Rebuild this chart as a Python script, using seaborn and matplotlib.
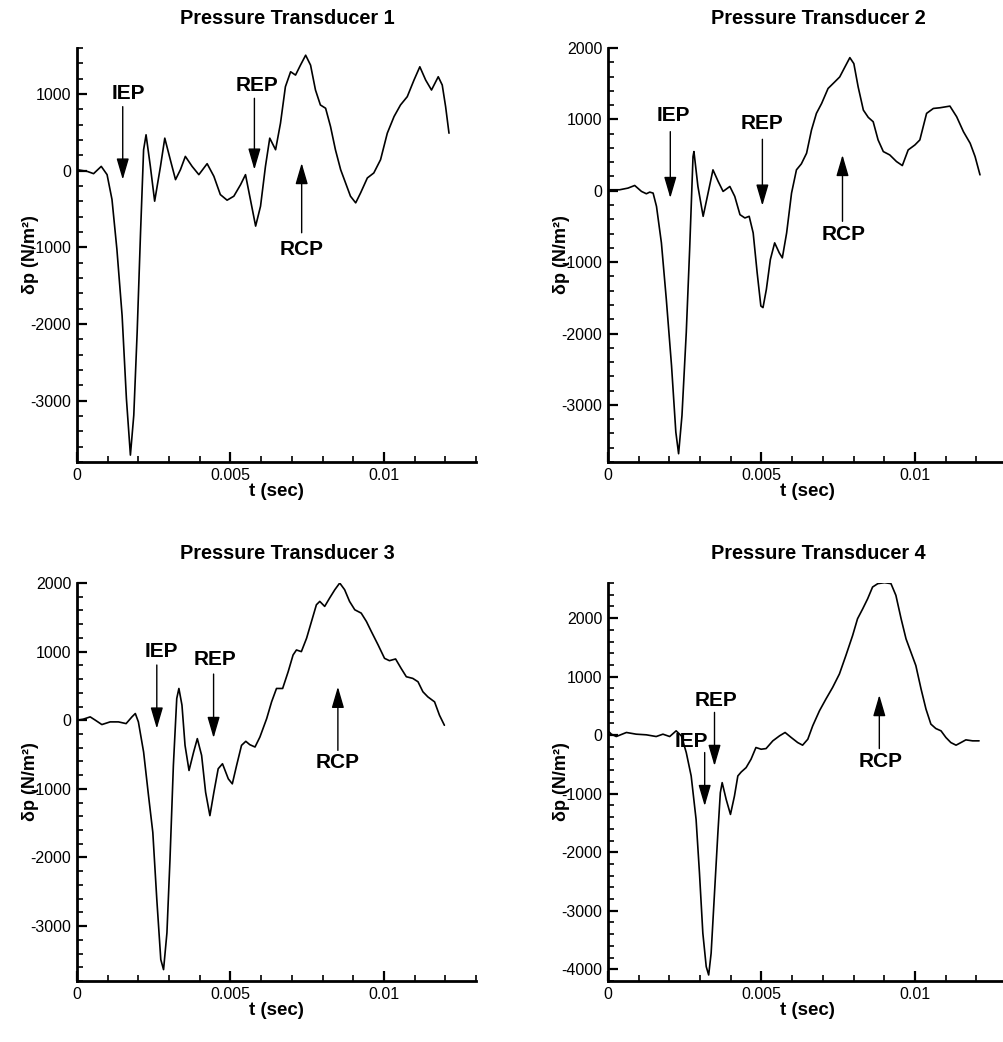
import pandas as pd
import matplotlib.pyplot as plt
import matplotlib.ticker as mticker
import seaborn as sns

t_1 = [0.0, 0.00033, 0.00054, 0.00079, 0.00098, 0.00114, 0.0013, 0.00147, 0.00161, 0.00174,
       0.00185, 0.00196, 0.00207, 0.00217, 0.00225, 0.00239, 0.00253, 0.00272, 0.00286, 0.00304,
       0.00321, 0.00337, 0.00353, 0.00375, 0.00397, 0.00424, 0.00446, 0.00467, 0.00489, 0.00511,
       0.00533, 0.00549, 0.00565, 0.00582, 0.00598, 0.00614, 0.00628, 0.00647, 0.00663, 0.00679,
       0.00696, 0.00712, 0.00728, 0.00745, 0.00761, 0.00777, 0.00793, 0.0081, 0.00826, 0.00842,
       0.00859, 0.00875, 0.00891, 0.00908, 0.00924, 0.00946, 0.00967, 0.00989, 0.01011, 0.01033,
       0.01054, 0.01076, 0.01098, 0.01117, 0.01136, 0.01155, 0.01177, 0.0119, 0.01201, 0.01212]
p_1 = [13, -9, -39, 56, -52, -376, -1026, -1892, -2974, -3710,
       -3190, -2108, -810, 273, 468, 56, -398, 56, 424, 143,
       -117, 13, 186, 56, -52, 91, -74, -312, -385, -333,
       -182, -52, -377, -723, -463, 56, 424, 273, 619, 1095,
       1290, 1247, 1376, 1506, 1376, 1052, 857, 814, 576, 273,
       13, -160, -333, -420, -290, -95, -30, 143, 489, 706,
       857, 965, 1182, 1355, 1182, 1052, 1225, 1117, 835, 489]

t_2 = [0.0, 0.00038, 0.00065, 0.00087, 0.00109, 0.00125, 0.00136, 0.00147, 0.00158, 0.00174,
       0.0019, 0.00207, 0.00221, 0.0023, 0.00241, 0.00255, 0.00266, 0.00277, 0.0028, 0.00293,
       0.0031, 0.00326, 0.00342, 0.00359, 0.00375, 0.00397, 0.00413, 0.0043, 0.00446, 0.0046,
       0.00473, 0.00486, 0.00498, 0.00505, 0.00516, 0.00529, 0.00543, 0.00558, 0.00568, 0.00582,
       0.00598, 0.00614, 0.0063, 0.00647, 0.00663, 0.00679, 0.00696, 0.00717, 0.00739, 0.00755,
       0.00772, 0.00788, 0.00801, 0.00815, 0.00832, 0.00848, 0.00864, 0.0088, 0.00897, 0.00918,
       0.0094, 0.00959, 0.00978, 0.01, 0.01016, 0.01038, 0.0106, 0.01082, 0.01114, 0.01136,
       0.01158, 0.0118, 0.01196, 0.01212]
p_2 = [14, 14, 37, 74, -9, -42, -19, -33, -219, -730,
       -1521, -2451, -3381, -3684, -3149, -1986, -823, 479, 549, 60,
       -358, -33, 293, 130, -9, 60, -79, -335, -381, -358,
       -591, -1149, -1614, -1637, -1381, -963, -730, -870, -940, -591,
       -33, 293, 377, 526, 851, 1084, 1223, 1433, 1526, 1595,
       1735, 1865, 1781, 1456, 1130, 1028, 967, 712, 549, 502,
       409, 353, 572, 642, 712, 1084, 1153, 1163, 1186, 1037,
       828, 665, 479, 223]

t_3 = [0.0, 0.0002, 0.00043, 0.0006, 0.00081, 0.00108, 0.00135, 0.0016, 0.00179, 0.0019,
       0.002, 0.00217, 0.00233, 0.00247, 0.0026, 0.00273, 0.00282, 0.00293, 0.00303, 0.00314,
       0.00325, 0.00332, 0.00342, 0.00352, 0.00365, 0.0038, 0.00392, 0.00406, 0.00419, 0.00433,
       0.00446, 0.0046, 0.00474, 0.00493, 0.00506, 0.0052, 0.00536, 0.0055, 0.00563, 0.0058,
       0.00596, 0.00618, 0.00634, 0.0065, 0.0067, 0.00688, 0.00704, 0.00715, 0.00731, 0.00748,
       0.00764, 0.0078, 0.00791, 0.00807, 0.00823, 0.0084, 0.00856, 0.00872, 0.00888, 0.00905,
       0.00926, 0.00943, 0.00959, 0.00981, 0.01002, 0.01018, 0.01038, 0.01056, 0.01073, 0.01094,
       0.01111, 0.01127, 0.01143, 0.01165, 0.01181, 0.01197]
p_3 = [0, 15, 49, 0, -63, -24, -24, -49, 49, 98,
       -24, -463, -1098, -1634, -2610, -3488, -3634, -3098, -2024, -659,
       317, 463, 220, -366, -732, -463, -268, -512, -1049, -1390,
       -1049, -707, -634, -854, -927, -659, -366, -307, -356, -390,
       -244, 24, 268, 463, 463, 707, 951, 1024, 1000, 1195,
       1439, 1683, 1732, 1659, 1780, 1902, 2000, 1902, 1732, 1610,
       1561, 1439, 1293, 1098, 902, 868, 893, 756, 634, 610,
       561, 415, 341, 268, 73, -73]

t_4 = [0.0, 0.00011, 0.00027, 0.0006, 0.00092, 0.00125, 0.00157, 0.00179, 0.00201, 0.00222,
       0.00239, 0.00255, 0.00271, 0.00287, 0.00298, 0.00309, 0.0032, 0.00328, 0.00336, 0.00347,
       0.00358, 0.00366, 0.00372, 0.00385, 0.00399, 0.00412, 0.00423, 0.00434, 0.0045, 0.00466,
       0.00482, 0.00499, 0.00515, 0.00537, 0.00559, 0.00577, 0.00597, 0.00618, 0.00634, 0.00651,
       0.00667, 0.00689, 0.0071, 0.00732, 0.00754, 0.00775, 0.00797, 0.00813, 0.0083, 0.00846,
       0.00862, 0.00879, 0.00901, 0.00922, 0.00938, 0.00955, 0.00971, 0.00987, 0.01003, 0.0102,
       0.01036, 0.01052, 0.01068, 0.01085, 0.01101, 0.01117, 0.01134, 0.0115, 0.01166, 0.01188,
       0.01209]
p_4 = [74, 17, -23, 46, 17, 6, -23, 17, -23, 74,
       -11, -297, -697, -1440, -2354, -3383, -3954, -4097, -3726, -2697,
       -1669, -983, -811, -1097, -1354, -1040, -697, -629, -554, -411,
       -211, -240, -229, -97, -11, 46, -40, -126, -171, -69,
       160, 417, 617, 817, 1046, 1360, 1703, 1989, 2160, 2331,
       2531, 2589, 2606, 2589, 2389, 1989, 1646, 1417, 1189, 789,
       446, 189, 114, 74, -40, -126, -171, -126, -80, -97,
       -97]

titles = ["Pressure Transducer 1", "Pressure Transducer 2",
          "Pressure Transducer 3", "Pressure Transducer 4"]
ylims = [(-3800, 1600), (-3800, 2000), (-3800, 2000), (-4200, 2600)]

# arrow annotations: (label, text x, text y, arrow x, tail y, tip y)
notes = [
    [("IEP", 0.00166, 1004, 0.00149, 835, -117),
     ("REP", 0.00587, 1117, 0.00578, 944, 13),
     ("RCP", 0.00732, -1026, 0.00732, -810, 100)],
    [("IEP", 0.00212, 1060, 0.00203, 828, -102),
     ("REP", 0.00502, 944, 0.00503, 721, -209),
     ("RCP", 0.00769, -614, 0.00764, -428, 502)],
    [("IEP", 0.00274, 1000, 0.0026, 805, -122),
     ("REP", 0.0045, 878, 0.00445, 673, -259),
     ("RCP", 0.0085, -610, 0.0085, -439, 488)],
    [("IEP", 0.00271, -114, 0.00315, -297, -1211),
     ("REP", 0.00352, 589, 0.00347, 389, -526),
     ("RCP", 0.00889, -457, 0.00884, -229, 686)],
]

sns.set_style("ticks")
plt.rcParams['font.family'] = ['Liberation Sans', 'DejaVu Sans']
plt.rcParams['axes.unicode_minus'] = False
for k in ("text.color", "axes.labelcolor", "axes.edgecolor", "xtick.color", "ytick.color"):
    plt.rcParams[k] = "black"

fig = plt.figure(figsize=(10.04, 10.42), dpi=100)
W, H = 1004, 1042
boxes = [(77, 48, 462), (608, 48, 462), (77, 583, 981), (608, 583, 981)]

series = [(t_1, p_1), (t_2, p_2), (t_3, p_3), (t_4, p_4)]
for i, ((t, p), (left, top, bottom)) in enumerate(zip(series, boxes)):
    ax = fig.add_axes([left / W, (H - bottom) / H, 399 / W, (bottom - top) / H])
    df = pd.DataFrame({"t": t, "dp": p})
    sns.lineplot(data=df, x="t", y="dp", ax=ax, color="black", lw=1.2,
                 estimator=None, sort=False)
    ax.set_xlim(0, 0.013)
    ax.set_ylim(*ylims[i])
    sns.despine(ax=ax)
    for s in ("left", "bottom"):
        ax.spines[s].set_linewidth(2)
    ax.xaxis.set_major_locator(mticker.MultipleLocator(0.005))
    ax.xaxis.set_minor_locator(mticker.MultipleLocator(0.001))
    ax.yaxis.set_major_locator(mticker.MultipleLocator(1000))
    ax.yaxis.set_minor_locator(mticker.MultipleLocator(200))
    ax.xaxis.set_major_formatter(mticker.FuncFormatter(lambda v, _: "%g" % round(v, 6)))
    ax.yaxis.set_major_formatter(mticker.FuncFormatter(lambda v, _: "%d" % v))
    ax.tick_params(which="major", direction="in", length=7, width=1.6, labelsize=11.5, pad=4)
    ax.tick_params(which="minor", direction="in", length=4, width=1.2)
    ax.set_xlabel("t (sec)", fontsize=13.5, fontweight="bold", labelpad=0)
    ax.set_ylabel("δp (N/m²)", fontsize=13, fontweight="bold")
    ax.yaxis.set_label_coords(-0.095, 0.5)
    ax.set_title(titles[i], fontsize=14.3, fontweight="bold", x=0.527, pad=17)

    for lab, tx, ty, ax_x, y0, y1 in notes[i]:
        ax.annotate("", xy=(ax_x, y1), xytext=(ax_x, y0),
                    arrowprops=dict(arrowstyle="-|>,head_length=1.3,head_width=0.38",
                                    color="black", lw=1, shrinkA=0, shrinkB=0,
                                    mutation_scale=10))
        ax.text(tx, ty, lab, fontsize=15, fontweight="bold", ha="center", va="center")

fig.savefig("out.png", dpi=100)
